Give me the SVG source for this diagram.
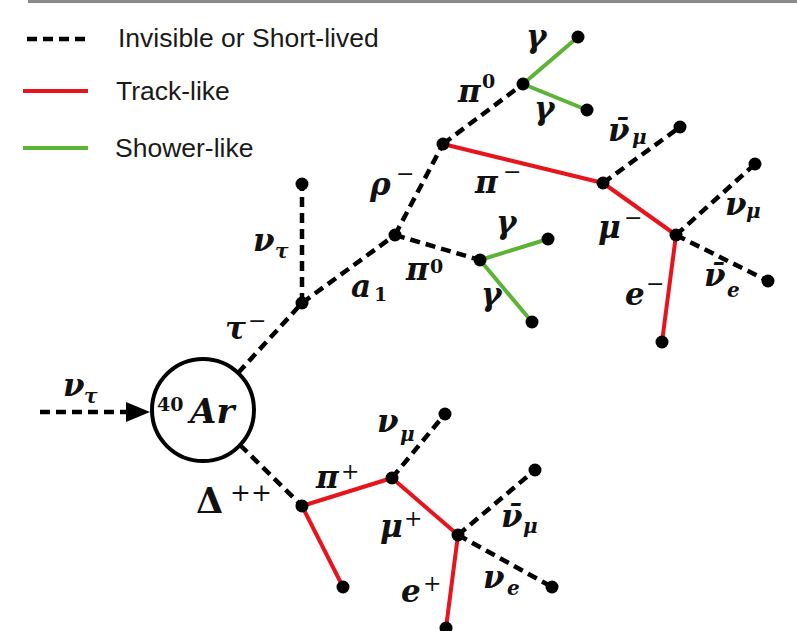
<svg xmlns="http://www.w3.org/2000/svg" width="797" height="631" viewBox="0 0 797 631">
<style>
.dash{stroke:#000;stroke-width:4.5;stroke-dasharray:10 6;fill:none}
.track{stroke:#e8141c;stroke-width:4;fill:none}
.shower{stroke:#5cb335;stroke-width:4;fill:none}
.dot{fill:#000}
.leg{font-family:"Liberation Sans",Arial,sans-serif;font-size:26.5px;fill:#1a1a1a}
.m{font-family:"DejaVu Serif","Liberation Serif",serif;font-weight:bold;font-style:italic;font-size:31px;fill:#111}
.s{font-family:"DejaVu Serif","Liberation Serif",serif;font-weight:bold;font-style:italic;font-size:20px;fill:#111}
.u{font-family:"DejaVu Serif","Liberation Serif",serif;font-size:22px;fill:#111}
.ub{font-family:"DejaVu Serif","Liberation Serif",serif;font-weight:bold;font-size:19px;fill:#111}
.up{font-family:"DejaVu Serif","Liberation Serif",serif;font-weight:bold;font-style:normal;font-size:35px;fill:#111}
</style>
<rect x="28" y="0" width="769" height="3" fill="#8a8a8a"/>
<g id="legend">
<line class="dash" x1="27" y1="39" x2="88" y2="39"/>
<text class="leg" x="118" y="47">Invisible or Short-lived</text>
<line class="track" x1="23" y1="91" x2="88" y2="91"/>
<text class="leg" x="116" y="100">Track-like</text>
<line class="shower" x1="23" y1="148" x2="88" y2="148"/>
<text class="leg" x="115" y="157">Shower-like</text>
</g>
<g id="connectors">
<line class="dash" x1="40" y1="412" x2="127" y2="412"/>
<polygon points="126,402 150,412 126,422" fill="#000"/>
<line class="dash" x1="238" y1="373" x2="302" y2="303"/>
<line class="dash" x1="302" y1="303" x2="302" y2="184"/>
<line class="dash" x1="302" y1="303" x2="395" y2="235"/>
<line class="dash" x1="395" y1="235" x2="443" y2="144"/>
<line class="dash" x1="443" y1="144" x2="523" y2="84"/>
<line class="shower" x1="523" y1="84" x2="578" y2="37"/>
<line class="shower" x1="523" y1="84" x2="587" y2="110"/>
<line class="track" x1="443" y1="144" x2="603" y2="183"/>
<line class="dash" x1="603" y1="183" x2="680" y2="127"/>
<line class="track" x1="603" y1="183" x2="676" y2="235"/>
<line class="dash" x1="676" y1="235" x2="755" y2="164"/>
<line class="dash" x1="676" y1="235" x2="768" y2="281"/>
<line class="track" x1="676" y1="235" x2="662" y2="342"/>
<line class="dash" x1="395" y1="235" x2="480" y2="260"/>
<line class="shower" x1="480" y1="260" x2="548" y2="239"/>
<line class="shower" x1="480" y1="260" x2="532" y2="322"/>
<line class="dash" x1="240" y1="445" x2="302" y2="506"/>
<line class="track" x1="302" y1="506" x2="392" y2="478"/>
<line class="track" x1="302" y1="506" x2="343" y2="587"/>
<line class="dash" x1="392" y1="478" x2="445" y2="414"/>
<line class="track" x1="392" y1="478" x2="458" y2="535"/>
<line class="dash" x1="458" y1="535" x2="535" y2="470"/>
<line class="dash" x1="458" y1="535" x2="552" y2="587"/>
<line class="track" x1="458" y1="535" x2="446" y2="628"/>
</g>
<g id="ar">
<circle cx="203" cy="410" r="51" fill="#fff" stroke="#000" stroke-width="4"/>
<text class="ub" x="157" y="411">40</text>
<text class="m" x="190" y="423" style="font-size:34px">Ar</text>
</g>
<g id="dots">
<circle class="dot" cx="302" cy="303" r="6.5"/>
<circle class="dot" cx="302" cy="184" r="6.5"/>
<circle class="dot" cx="395" cy="235" r="6.5"/>
<circle class="dot" cx="443" cy="144" r="6.5"/>
<circle class="dot" cx="523" cy="84" r="6.5"/>
<circle class="dot" cx="578" cy="37" r="6.5"/>
<circle class="dot" cx="587" cy="110" r="6.5"/>
<circle class="dot" cx="603" cy="183" r="6.5"/>
<circle class="dot" cx="680" cy="127" r="6.5"/>
<circle class="dot" cx="676" cy="235" r="6.5"/>
<circle class="dot" cx="755" cy="164" r="6.5"/>
<circle class="dot" cx="768" cy="281" r="6.5"/>
<circle class="dot" cx="662" cy="342" r="6.5"/>
<circle class="dot" cx="480" cy="260" r="6.5"/>
<circle class="dot" cx="548" cy="239" r="6.5"/>
<circle class="dot" cx="532" cy="322" r="6.5"/>
<circle class="dot" cx="302" cy="506" r="6.5"/>
<circle class="dot" cx="392" cy="478" r="6.5"/>
<circle class="dot" cx="343" cy="587" r="6.5"/>
<circle class="dot" cx="445" cy="414" r="6.5"/>
<circle class="dot" cx="458" cy="535" r="6.5"/>
<circle class="dot" cx="535" cy="470" r="6.5"/>
<circle class="dot" cx="552" cy="587" r="6.5"/>
<circle class="dot" cx="446" cy="628" r="6.5"/>
</g>
<g id="labels">
<text class="m" x="63" y="396">ν</text><text class="s" x="84" y="403">τ</text>
<text class="m" x="225" y="339">τ</text><text class="u" x="248" y="328">−</text>
<text class="m" x="253" y="251">ν</text><text class="s" x="275" y="258">τ</text>
<text class="m" x="351" y="297">a</text><text class="ub" x="374" y="301">1</text>
<text class="m" x="370" y="195">ρ</text><text class="u" x="396" y="181">−</text>
<text class="m" x="458" y="102">π</text><text class="ub" x="482" y="88">0</text>
<text class="m" x="526" y="47">γ</text>
<text class="m" x="534" y="119">γ</text>
<text class="m" x="608" y="141">ν̄</text><text class="s" x="632" y="144">μ</text>
<text class="m" x="475" y="193">π</text><text class="u" x="503" y="179">−</text>
<text class="m" x="598" y="238">μ</text><text class="u" x="624" y="225">−</text>
<text class="m" x="725" y="215">ν</text><text class="s" x="746" y="218">μ</text>
<text class="m" x="704" y="286">ν̄</text><text class="s" x="727" y="297">e</text>
<text class="m" x="625" y="305">e</text><text class="u" x="646" y="291">−</text>
<text class="m" x="406" y="280">π</text><text class="ub" x="430" y="273">0</text>
<text class="m" x="496" y="233">γ</text>
<text class="m" x="481" y="305">γ</text>
<text class="up" x="196" y="513">Δ</text><text class="u" x="230" y="501" style="font-size:25px">++</text>
<text class="m" x="377" y="432">ν</text><text class="s" x="400" y="441">μ</text>
<text class="m" x="316" y="488">π</text><text class="u" x="341" y="479">+</text>
<text class="m" x="380" y="537">μ</text><text class="u" x="404" y="526">+</text>
<text class="m" x="501" y="527">ν̄</text><text class="s" x="523" y="533">μ</text>
<text class="m" x="401" y="602">e</text><text class="u" x="423" y="591">+</text>
<text class="m" x="483" y="588">ν</text><text class="s" x="507" y="595">e</text>
</g>
</svg>
